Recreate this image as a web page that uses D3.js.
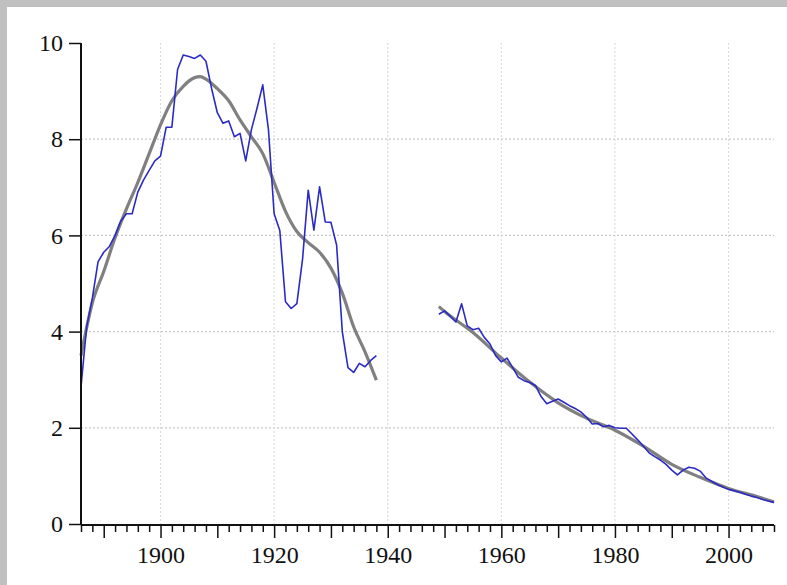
<!DOCTYPE html>
<html>
<head>
<meta charset="utf-8">
<script src="https://cdn.jsdelivr.net/npm/d3@7"></script>
<style>
  html, body { margin: 0; padding: 0; background: #c0c0c0; }
  svg { display: block; }
  .axis text { font-family: "Liberation Serif", "Times New Roman", serif; font-size: 24px; fill: #111; }
</style>
</head>
<body>
<script>
// Observed annual values, first period (1886–1938)
const years1 = d3.range(1886, 1939);
const observed1 = [
  2.85, 4.10, 4.70, 5.45, 5.65, 5.77, 6.00, 6.30, 6.45, 6.45,
  6.90, 7.15, 7.35, 7.55, 7.65, 8.25, 8.25, 9.45, 9.75, 9.72,
  9.68, 9.75, 9.62, 9.05, 8.55, 8.33, 8.38, 8.05, 8.12, 7.55,
  8.20, 8.65, 9.13, 8.20, 6.45, 6.10, 4.62, 4.48, 4.58, 5.50,
  6.94, 6.11, 7.01, 6.28, 6.27, 5.80, 4.00, 3.25, 3.15, 3.34,
  3.27, 3.40, 3.50
];

// Smoothed trend, first period
const trendYears1 = [1886, 1888, 1890, 1892, 1894, 1896, 1898, 1900, 1902, 1904, 1906, 1907, 1908, 1910, 1912, 1914, 1916, 1918, 1920, 1922, 1924, 1926, 1928, 1930, 1932, 1934, 1936, 1938];
const trend1 = [3.50, 4.60, 5.25, 5.95, 6.55, 7.10, 7.70, 8.30, 8.80, 9.10, 9.28, 9.30, 9.25, 9.05, 8.80, 8.40, 8.05, 7.70, 7.10, 6.50, 6.08, 5.85, 5.65, 5.32, 4.80, 4.10, 3.58, 2.99];

// Observed annual values, second period (1949–2008)
const years2 = d3.range(1949, 2009);
const observed2 = [
  4.36, 4.43, 4.32, 4.20, 4.58, 4.12, 4.04, 4.07, 3.88, 3.74,
  3.50, 3.37, 3.45, 3.25, 3.05, 2.98, 2.94, 2.88, 2.65, 2.50,
  2.55, 2.60, 2.53, 2.46, 2.40, 2.33, 2.22, 2.08, 2.09, 2.02,
  2.05, 2.00, 1.99, 1.99, 1.87, 1.75, 1.62, 1.48, 1.40, 1.33,
  1.24, 1.12, 1.02, 1.12, 1.18, 1.16, 1.10, 0.96, 0.89, 0.82,
  0.77, 0.72, 0.69, 0.66, 0.62, 0.58, 0.55, 0.51, 0.48, 0.45
];

// Smoothed trend, second period
const trendYears2 = [1949, 1950, 1955, 1960, 1965, 1970, 1975, 1980, 1985, 1990, 1995, 2000, 2005, 2008];
const trend2 = [4.52, 4.42, 3.98, 3.45, 2.95, 2.52, 2.20, 1.95, 1.62, 1.24, 0.97, 0.74, 0.57, 0.46];

const yTicks = [0, 2, 4, 6, 8, 10];
const xLabelYears = [1900, 1920, 1940, 1960, 1980, 2000];
const gridY = [2, 4, 6, 8];

const W = 787, H = 585;
const svg = d3.select("body").append("svg").attr("width", W).attr("height", H);

// White plotting sheet inside the grey frame
svg.append("rect").attr("x", 7).attr("y", 7).attr("width", W - 7).attr("height", H - 7).attr("fill", "#fff");

const x = d3.scaleLinear().domain([1886, 2008]).range([81, 774]);
const y = d3.scaleLinear().domain([0, 10]).range([524, 43]);

// Dotted grid
const grid = svg.append("g");
grid.selectAll("line.h").data(gridY).join("line")
  .attr("x1", x(1886)).attr("x2", x(2008))
  .attr("y1", d => y(d)).attr("y2", d => y(d))
  .attr("stroke", "#c8c8c8").attr("stroke-width", 1.2).attr("stroke-dasharray", "2,2");
grid.selectAll("line.v").data(xLabelYears).join("line")
  .attr("x1", d => x(d)).attr("x2", d => x(d))
  .attr("y1", y(10)).attr("y2", y(0))
  .attr("stroke", "#dcdcdc").attr("stroke-width", 1.2).attr("stroke-dasharray", "2,2");

// Series lines
const line = d3.line().x(d => x(d[0])).y(d => y(d[1]));
const smooth = d3.line().x(d => x(d[0])).y(d => y(d[1])).curve(d3.curveMonotoneX);

const g = svg.append("g").attr("fill", "none");
g.append("path").datum(d3.zip(trendYears1, trend1)).attr("d", smooth)
  .attr("stroke", "#808080").attr("stroke-width", 3.2);
g.append("path").datum(d3.zip(trendYears2, trend2)).attr("d", smooth)
  .attr("stroke", "#808080").attr("stroke-width", 3.2);
g.append("path").datum(d3.zip(years1, observed1)).attr("d", line)
  .attr("stroke", "#2b2bc4").attr("stroke-width", 1.6).attr("stroke-linejoin", "round");
g.append("path").datum(d3.zip(years2, observed2)).attr("d", line)
  .attr("stroke", "#2b2bc4").attr("stroke-width", 1.6).attr("stroke-linejoin", "round");

// Y axis
const yAxis = svg.append("g").attr("class", "axis").attr("transform", `translate(${x(1886)},0)`)
  .call(d3.axisLeft(y).tickValues(yTicks).tickSize(12).tickPadding(6).tickFormat(d3.format("d")));
yAxis.select(".domain").attr("stroke", "#111").attr("stroke-width", 2).attr("d", `M0,${y(10)}V${y(0)}`);
yAxis.selectAll(".tick line").attr("stroke", "#111").attr("stroke-width", 1.5);

// X axis: tick every 2 years, longer every 10, labels every 20
const xAxis = svg.append("g").attr("class", "axis").attr("transform", `translate(0,${y(0) + 1})`)
  .call(d3.axisBottom(x).tickValues(d3.range(1886, 2009, 2)).tickSize(7)
    .tickFormat(d => xLabelYears.includes(d) ? String(d) : ""));
xAxis.select(".domain").attr("stroke", "#111").attr("stroke-width", 2).attr("d", `M${x(1886)},0H${x(2008)}`);
xAxis.selectAll(".tick line").attr("stroke", "#111").attr("stroke-width", 1.5)
  .attr("y2", d => d % 10 === 0 ? 13 : 7);
xAxis.selectAll(".tick text").attr("y", 21);
</script>
</body>
</html>
